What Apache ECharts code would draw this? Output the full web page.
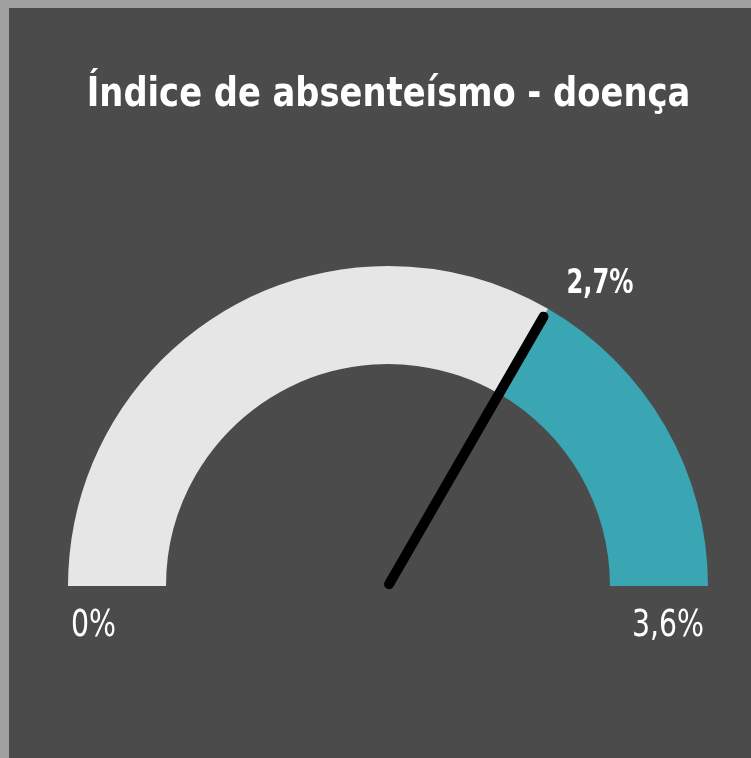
<!DOCTYPE html>
<html><head><meta charset="utf-8">
<script src="https://cdn.jsdelivr.net/npm/echarts@6/dist/echarts.min.js"></script>
<style>
html,body{margin:0;padding:0;background:#a0a0a0;}
#wrap{position:absolute;left:9px;top:8px;width:742px;height:750px;background:#4b4b4b;}
#c{position:absolute;left:-9px;top:-8px;width:751px;height:758px;}
</style></head>
<body><div id="wrap"><div id="c"></div></div>
<script>
const titleText = 'Índice de absenteísmo - doença';
const gaugeMin = 0;
const gaugeMax = 3.6;
const needleValue = 2.4;      // position of needle / colour split
const valueLabel = '2,7%';
const tickLabels = ['0%', '3,6%'];
const colors = ['#e6e6e6', '#3aa5b3'];

const FONT = '"DejaVu Sans Condensed", "Liberation Sans Narrow", sans-serif';
const chart = echarts.init(document.getElementById('c'), null, {renderer: 'canvas'});
const L = 319;
const needlePath = 'path://M0,5 A5,5 0 0 1 10,5 L10,' + (L - 5) + ' A5,5 0 0 1 0,' + (L - 5) + ' Z';
chart.setOption({
  backgroundColor: 'transparent',
  series: [{
    type: 'gauge',
    center: [388, 586],
    radius: 320,
    startAngle: 180, endAngle: 0,
    min: gaugeMin, max: gaugeMax,
    axisLine: {lineStyle: {width: 98, color: [[(needleValue - gaugeMin) / (gaugeMax - gaugeMin), colors[0]], [1, colors[1]]]}},
    axisTick: {show: false}, splitLine: {show: false}, axisLabel: {show: false},
    pointer: {icon: needlePath, width: 10, length: L, offsetCenter: [0, 3]},
    itemStyle: {color: '#000000'},
    anchor: {show: false},
    title: {show: false},
    detail: {show: false},
    data: [{value: needleValue}]
  }],
  graphic: [
    {type: 'text', x: 388.5, y: 76, scaleX: 0.938, style: {text: titleText, align: 'center', verticalAlign: 'top', fill: '#ffffff', font: 'bold 40px ' + FONT}},
    {type: 'text', x: 600, y: 267, scaleX: 0.79, style: {text: valueLabel, align: 'center', verticalAlign: 'top', fill: '#ffffff', font: 'bold 34px ' + FONT}},
    {type: 'text', x: 71, y: 607, scaleX: 0.83, style: {text: tickLabels[0], align: 'left', verticalAlign: 'top', fill: '#ffffff', font: '38px ' + FONT}},
    {type: 'text', x: 704, y: 607, scaleX: 0.83, style: {text: tickLabels[1], align: 'right', verticalAlign: 'top', fill: '#ffffff', font: '38px ' + FONT}}
  ]
});
</script></body></html>
